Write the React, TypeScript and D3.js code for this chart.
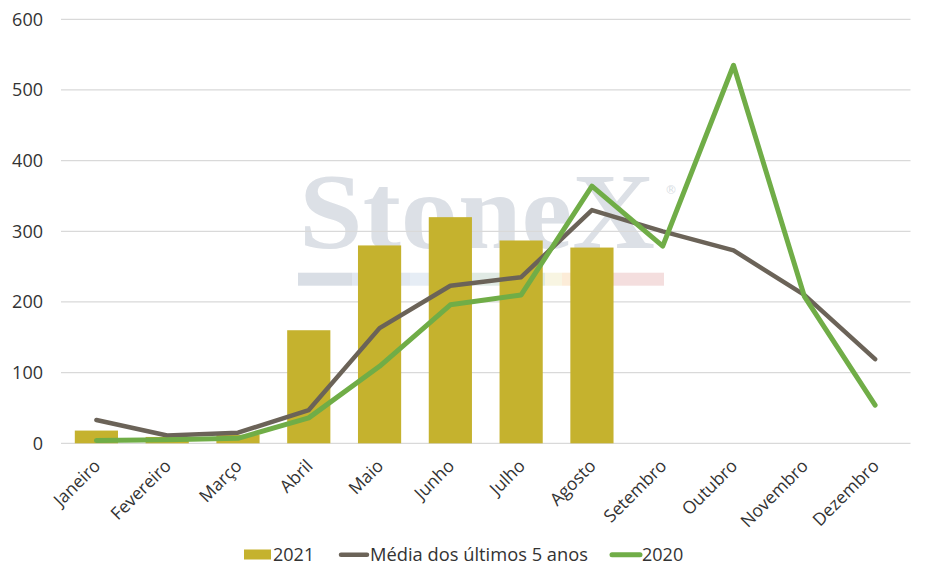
import React from "react";
import * as d3 from "d3";

const months = ["Janeiro","Fevereiro","Março","Abril","Maio","Junho","Julho","Agosto","Setembro","Outubro","Novembro","Dezembro"];
const values2021 = [18, 9, 12, 160, 280, 320, 287, 277, null, null, null, null];
const media5 = [33, 11, 15, 47, 163, 223, 235, 330, 300, 273, 210, 119];
const values2020 = [4, 5, 7, 36, 109, 196, 210, 364, 279, 535, 208, 54];
const yTicks = [0, 100, 200, 300, 400, 500, 600];
const legendLabels = ["2021", "Média dos últimos 5 anos", "2020"];

const W = 926, H = 578;
const margin = { left: 61, right: 15.5, top: 19.3, bottom: 134.7 };
const FONT = "'Open Sans', 'DejaVu Sans', sans-serif";
const C_BAR = "#c5b22e", C_MED = "#6b6358", C_2020 = "#70ad47";

export default function App() {
  const x = d3.scaleBand<string>().domain(months).range([margin.left, W - margin.right]).paddingInner(0.39).paddingOuter(0.195);
  const xc = (m: string) => (x(m) as number) + x.bandwidth() / 2;
  const y = d3.scaleLinear().domain([0, 600]).range([H - margin.bottom, margin.top]);
  const line = d3.line<number>().x((_, i) => xc(months[i])).y((v) => y(v));
  const wmColors = ["#d9dee5", "#e2e8f1", "#e6edf5", "#e0eae4", "#f8f5e2", "#fcecd8", "#f4dede"];
  const wmStops = [298, 352, 410, 470, 545, 562, 612, 664];

  return (
    <svg width={W} height={H} style={{ position: "absolute", left: 0, top: 0, background: "#fff" }}>
      <rect x={0} y={0} width={W} height={H} fill="#fff" />
      {/* watermark */}
      <g>
        <text x={299} y={248} fontFamily="'Liberation Serif', 'DejaVu Serif', serif" fontSize={107} fontWeight={700} fill="#dce0e6" textLength={356} lengthAdjust="spacingAndGlyphs">StoneX</text>
        <text x={665} y={194} fontFamily="'DejaVu Sans', sans-serif" fontSize={12} fill="#d9dee4">®</text>
        {wmColors.map((c, i) => (
          <rect key={i} x={wmStops[i]} y={272.7} width={wmStops[i + 1] - wmStops[i]} height={13} fill={c} />
        ))}
      </g>
      {/* gridlines */}
      {yTicks.map((t) => (
        <line key={t} x1={margin.left} x2={W - margin.right} y1={y(t)} y2={y(t)} stroke="#d9d9d9" strokeWidth={1.2} />
      ))}
      {yTicks.map((t) => (
        <text key={"l" + t} x={43} y={y(t)} dy="0.35em" textAnchor="end" fontFamily={FONT} fontSize={18} fill="#333">{t}</text>
      ))}
      {/* bars */}
      {values2021.map((v, i) => v == null ? null : (
        <rect key={i} x={x(months[i])} y={y(v)} width={x.bandwidth()} height={y(0) - y(v)} fill={C_BAR} />
      ))}
      {/* lines */}
      <path d={line(media5) || ""} fill="none" stroke={C_MED} strokeWidth={4.5} strokeLinecap="round" strokeLinejoin="round" />
      <path d={line(values2020) || ""} fill="none" stroke={C_2020} strokeWidth={5} strokeLinecap="round" strokeLinejoin="round" />
      {/* x labels */}
      {months.map((m) => (
        <text key={m} transform={`translate(${xc(m) + 5},${467}) rotate(-45)`} textAnchor="end" fontFamily={FONT} fontSize={17.5} fill="#333">{m}</text>
      ))}
      {/* legend */}
      <rect x={244} y={549.5} width={27} height={10} fill={C_BAR} />
      <text x={273} y={561} fontFamily={FONT} fontSize={18} fill="#333">{legendLabels[0]}</text>
      <line x1={341} x2={367} y1={554.7} y2={554.7} stroke={C_MED} strokeWidth={4.5} strokeLinecap="round" />
      <text x={370} y={561} fontFamily={FONT} fontSize={18} fill="#333" textLength={218} lengthAdjust="spacingAndGlyphs">{legendLabels[1]}</text>
      <line x1={612} x2={640} y1={554.7} y2={554.7} stroke={C_2020} strokeWidth={5} strokeLinecap="round" />
      <text x={642} y={561} fontFamily={FONT} fontSize={18} fill="#333">{legendLabels[2]}</text>
    </svg>
  );
}
